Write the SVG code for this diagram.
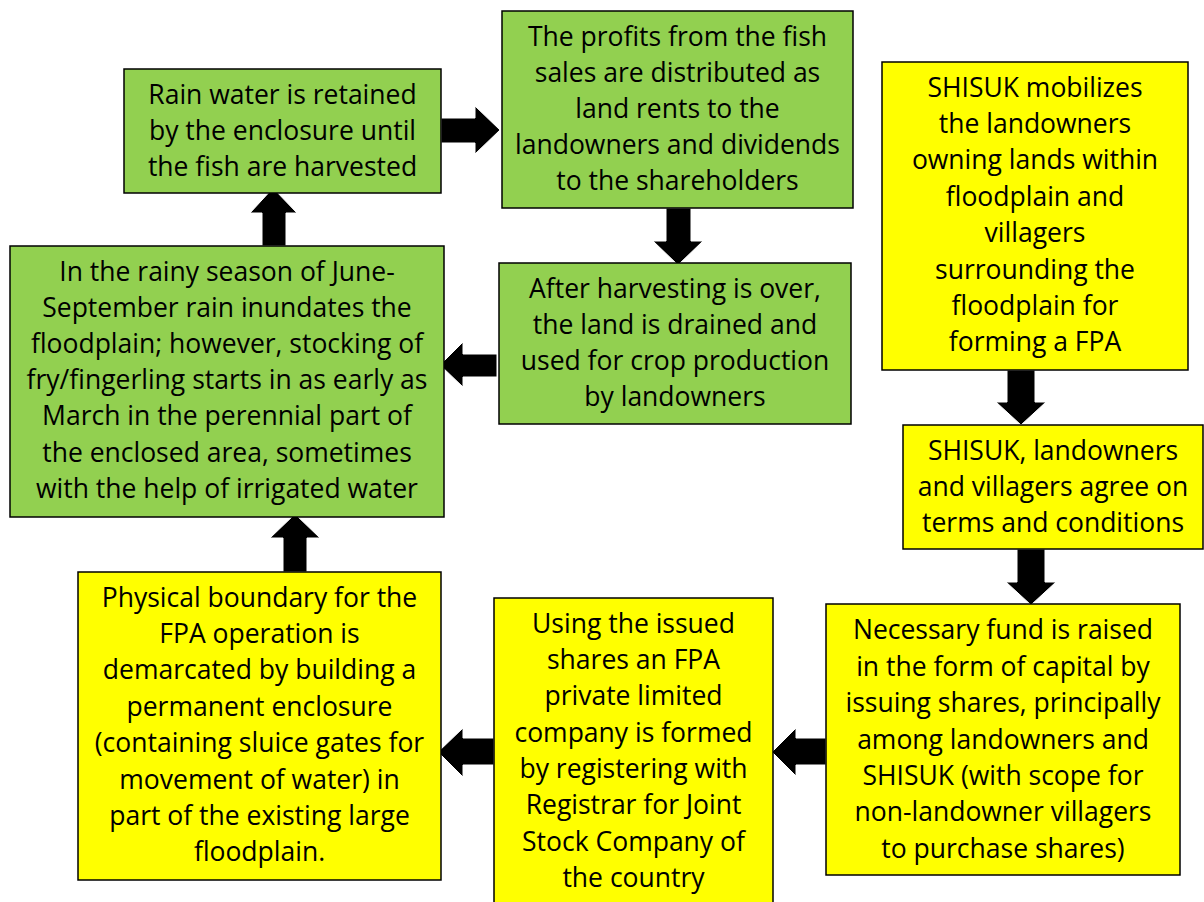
<svg xmlns="http://www.w3.org/2000/svg" width="1204" height="902" viewBox="0 0 1204 902">
<style>
.g{fill:#92d050;stroke:#000;stroke-width:1.5}
.y{fill:#ffff00;stroke:#000;stroke-width:1.5}
text{font-family:"Open Sans","Liberation Sans",Arial,sans-serif;font-size:26.5px;fill:#000;text-anchor:middle}
.ar{fill:#000;stroke:#fff;stroke-width:1}
</style>
<rect width="1204" height="902" fill="#fff"/>
<g id="connectors">
<polygon class="ar" points="441,118 475,118 475,106 500,130 475,154 475,143 441,143"/>
<polygon class="ar" points="666,208 691,208 691,241 703,241 678,265 653,241 666,241"/>
<polygon class="ar" points="262,246 262,213 250,213 273,188 297,213 286,213 286,246"/>
<polygon class="ar" points="497,354 463,354 463,342 440,365 463,387 463,377 497,377"/>
<polygon class="ar" points="1007,370 1035,370 1035,402 1046,402 1021,425 996,402 1007,402"/>
<polygon class="ar" points="1017,549 1045,549 1045,582 1056,582 1031,605 1006,582 1017,582"/>
<polygon class="ar" points="826,738 796,738 796,728 772,752 796,776 796,765 826,765"/>
<polygon class="ar" points="494,738 463,738 463,728 438,752 463,777 463,765 494,765"/>
<polygon class="ar" points="283,572 283,538 270,538 295,514 320,538 307,538 307,572"/>
</g>
<g id="nodeA">
<rect class="g" x="124" y="69" width="317" height="124"/>
<text x="282.5"><tspan x="282.5" y="104">Rain water is retained</tspan><tspan x="282.5" y="140">by the enclosure until</tspan><tspan x="282.5" y="176">the fish are harvested</tspan></text>
</g>
<g id="nodeB">
<rect class="g" x="502" y="11" width="351" height="197"/>
<text><tspan x="677.5" y="46">The profits from the fish</tspan><tspan x="677.5" y="82">sales are distributed as</tspan><tspan x="677.5" y="118">land rents to the</tspan><tspan x="677.5" y="154">landowners and dividends</tspan><tspan x="677.5" y="190">to the shareholders</tspan></text>
</g>
<g id="nodeC">
<rect class="y" x="882" y="62" width="306" height="308"/>
<text><tspan x="1035" y="97">SHISUK mobilizes</tspan><tspan x="1035" y="133">the landowners</tspan><tspan x="1035" y="169">owning lands within</tspan><tspan x="1035" y="206">floodplain and</tspan><tspan x="1035" y="242">villagers</tspan><tspan x="1035" y="279">surrounding the</tspan><tspan x="1035" y="315">floodplain for</tspan><tspan x="1035" y="351">forming a FPA</tspan></text>
</g>
<g id="nodeD">
<rect class="g" x="10" y="246" width="434" height="271"/>
<text><tspan x="227" y="281">In the rainy season of June-</tspan><tspan x="227" y="317">September rain inundates the</tspan><tspan x="227" y="353">floodplain; however, stocking of</tspan><tspan x="227" y="389">fry/fingerling starts in as early as</tspan><tspan x="227" y="425">March in the perennial part of</tspan><tspan x="227" y="462">the enclosed area, sometimes</tspan><tspan x="227" y="498">with the help of irrigated water</tspan></text>
</g>
<g id="nodeE">
<rect class="g" x="499" y="263" width="352" height="161"/>
<text><tspan x="675" y="298">After harvesting is over,</tspan><tspan x="675" y="334">the land is drained and</tspan><tspan x="675" y="370">used for crop production</tspan><tspan x="675" y="406">by landowners</tspan></text>
</g>
<g id="nodeF">
<rect class="y" x="903" y="425" width="300" height="124"/>
<text><tspan x="1053" y="460">SHISUK, landowners</tspan><tspan x="1053" y="496">and villagers agree on</tspan><tspan x="1053" y="532">terms and conditions</tspan></text>
</g>
<g id="nodeG">
<rect class="y" x="78" y="572" width="363" height="308"/>
<text><tspan x="259.5" y="607">Physical boundary for the</tspan><tspan x="259.5" y="643">FPA operation is</tspan><tspan x="259.5" y="679">demarcated by building a</tspan><tspan x="259.5" y="716">permanent enclosure</tspan><tspan x="259.5" y="752">(containing sluice gates for</tspan><tspan x="259.5" y="789">movement of water) in</tspan><tspan x="259.5" y="825">part of the existing large</tspan><tspan x="259.5" y="861">floodplain.</tspan></text>
</g>
<g id="nodeH">
<rect class="y" x="494" y="598" width="279" height="310"/>
<text><tspan x="633.5" y="633">Using the issued</tspan><tspan x="633.5" y="669">shares an FPA</tspan><tspan x="633.5" y="705">private limited</tspan><tspan x="633.5" y="742">company is formed</tspan><tspan x="633.5" y="778">by registering with</tspan><tspan x="633.5" y="814">Registrar for Joint</tspan><tspan x="633.5" y="851">Stock Company of</tspan><tspan x="633.5" y="887">the country</tspan></text>
</g>
<g id="nodeI">
<rect class="y" x="826" y="604" width="354" height="271"/>
<text><tspan x="1003" y="639">Necessary fund is raised</tspan><tspan x="1003" y="676">in the form of capital by</tspan><tspan x="1003" y="712">issuing shares, principally</tspan><tspan x="1003" y="749">among landowners and</tspan><tspan x="1003" y="785">SHISUK (with scope for</tspan><tspan x="1003" y="821">non-landowner villagers</tspan><tspan x="1003" y="858">to purchase shares)</tspan></text>
</g>
</svg>
